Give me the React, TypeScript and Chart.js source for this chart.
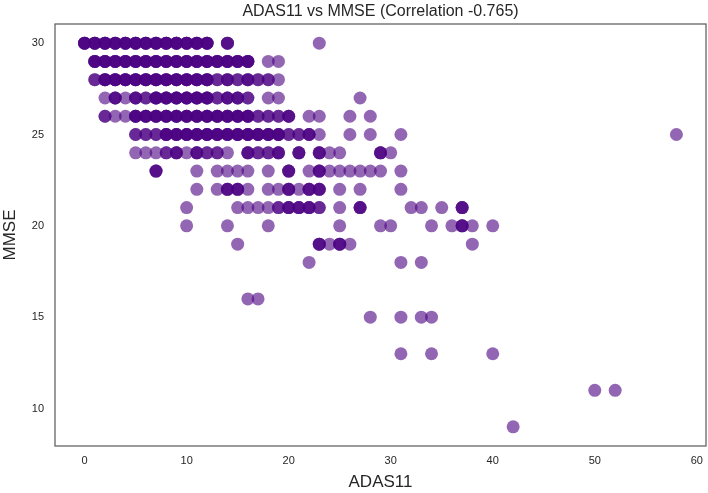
import React, { useEffect, useRef } from 'react';
import { Chart, registerables } from 'chart.js';

Chart.register(...registerables);

// MMSE levels (rows) with the ADAS11 values seen on each row and how many
// subjects overlap at each spot (overlap drives the darker purple).
const mmseLevels = [30, 29, 28, 27, 26, 25, 24, 23, 22, 21, 20, 19, 18, 16, 15, 13, 11, 9];

const adasByLevel: number[][] = [
  [0, 1, 2, 3, 4, 5, 6, 7, 8, 9, 10, 11, 12, 14, 23],
  [1, 2, 3, 4, 5, 6, 7, 8, 9, 10, 11, 12, 13, 14, 15, 16, 18, 19],
  [1, 2, 3, 4, 5, 6, 7, 8, 9, 10, 11, 12, 13, 14, 15, 16, 17, 18, 19],
  [2, 3, 4, 5, 6, 7, 8, 9, 10, 11, 12, 13, 14, 15, 16, 18, 19, 27],
  [2, 3, 4, 5, 6, 7, 8, 9, 10, 11, 12, 13, 14, 15, 16, 17, 18, 19, 20, 22, 23, 26, 28],
  [5, 6, 7, 8, 9, 10, 11, 12, 13, 14, 15, 16, 17, 18, 19, 20, 21, 22, 23, 26, 28, 31, 58],
  [5, 6, 7, 8, 9, 10, 11, 12, 13, 14, 16, 17, 18, 19, 21, 23, 24, 25, 29, 30],
  [7, 11, 13, 14, 15, 16, 18, 20, 22, 23, 24, 25, 26, 27, 28, 29, 31],
  [11, 13, 14, 15, 16, 18, 19, 20, 21, 22, 23, 25, 27, 31],
  [10, 15, 16, 17, 18, 19, 20, 21, 22, 23, 25, 27, 32, 33, 35, 37],
  [10, 14, 18, 25, 29, 30, 34, 36, 37, 38, 40],
  [15, 23, 24, 25, 26, 38],
  [22, 31, 33],
  [16, 17],
  [28, 31, 33, 34],
  [31, 34, 40],
  [50, 52],
  [42],
];

const countByLevel: number[][] = [
  [4, 4, 4, 4, 4, 4, 4, 4, 4, 4, 4, 4, 4, 3, 1],
  [4, 4, 4, 4, 4, 4, 4, 4, 4, 4, 4, 4, 4, 4, 4, 4, 1, 1],
  [2, 4, 4, 4, 4, 4, 4, 4, 4, 4, 4, 4, 2, 3, 2, 3, 2, 2, 1],
  [1, 3, 1, 3, 2, 4, 4, 4, 4, 4, 4, 2, 3, 3, 2, 1, 1, 1],
  [2, 1, 1, 4, 4, 4, 4, 4, 4, 4, 4, 4, 4, 4, 4, 2, 2, 2, 3, 1, 1, 1, 1],
  [2, 2, 2, 4, 4, 4, 4, 4, 4, 4, 4, 4, 4, 4, 4, 2, 2, 3, 1, 1, 1, 1, 1],
  [1, 1, 1, 2, 3, 1, 3, 2, 2, 1, 3, 2, 2, 3, 3, 3, 1, 1, 3, 1],
  [3, 1, 1, 1, 1, 1, 1, 3, 1, 3, 1, 1, 1, 1, 1, 1, 1],
  [1, 1, 3, 3, 1, 1, 1, 3, 1, 3, 3, 1, 1, 1],
  [1, 1, 1, 1, 1, 2, 3, 3, 3, 2, 1, 3, 1, 1, 1, 3],
  [1, 1, 1, 1, 1, 1, 1, 1, 3, 1, 1],
  [1, 3, 1, 3, 1, 1],
  [1, 1, 1],
  [1, 1],
  [1, 1, 1, 1],
  [1, 1, 1],
  [1, 1],
  [1],
];

const xTicks = [0, 10, 20, 30, 40, 50, 60];
const yTicks = [10, 15, 20, 25, 30];

const TITLE = 'ADAS11 vs MMSE (Correlation -0.765)';
const X_LABEL = 'ADAS11';
const Y_LABEL = 'MMSE';

const FONT = '"Liberation Sans", Arial, Helvetica, sans-serif';
const TEXT = '#262626';

export default function App() {
  const ref = useRef<HTMLCanvasElement>(null);

  useEffect(() => {
    const points: { x: number; y: number }[] = [];
    mmseLevels.forEach((m, i) => {
      adasByLevel[i].forEach((a, j) => {
        for (let k = 0; k < countByLevel[i][j]; k++) points.push({ x: a, y: m });
      });
    });

    const framePlugin = {
      id: 'frame',
      afterDraw(chart: any) {
        const { ctx } = chart;
        const { left, top, right, bottom } = chart.chartArea;
        ctx.save();
        ctx.strokeStyle = '#5f5f5f';
        ctx.lineWidth = 1.25;
        ctx.strokeRect(left, top, right - left, bottom - top);
        ctx.restore();
      },
    };

    const chart = new Chart(ref.current as HTMLCanvasElement, {
      type: 'scatter',
      data: {
        datasets: [
          {
            data: points,
            backgroundColor: 'rgba(75,0,130,0.6)',
            borderColor: 'rgba(75,0,130,0.6)',
            borderWidth: 0,
            pointRadius: 6.5,
            pointHoverRadius: 6.5,
          },
        ],
      },
      options: {
        animation: false,
        responsive: false,
        events: [],
        layout: { autoPadding: false, padding: { left: 0, right: 2, top: 0, bottom: 0 } },
        plugins: {
          legend: { display: false },
          tooltip: { enabled: false },
          title: {
            display: true,
            fullSize: false,
            text: TITLE,
            color: TEXT,
            font: { family: FONT, size: 16, weight: 'normal' },
            padding: { top: 2, bottom: 2.8 },
          },
        },
        scales: {
          x: {
            type: 'linear',
            min: -2.9,
            max: 60.9,
            afterBuildTicks: (s: any) => {
              s.ticks = xTicks.map((v) => ({ value: v }));
            },
            afterFit: (s: any) => {
              s.height = 47;
              s.paddingLeft = 0;
              s.paddingRight = 0;
            },
            grid: { display: false, drawTicks: false },
            border: { display: false },
            ticks: {
              padding: 8,
              color: TEXT,
              font: { family: FONT, size: 11 },
              maxRotation: 0,
            },
            title: {
              display: true,
              text: X_LABEL,
              color: TEXT,
              font: { family: FONT, size: 17 },
              padding: { top: 0, bottom: 0 },
            },
          },
          y: {
            type: 'linear',
            min: 7.95,
            max: 31.05,
            afterBuildTicks: (s: any) => {
              s.ticks = yTicks.map((v) => ({ value: v }));
            },
            afterFit: (s: any) => {
              s.width = 55;
              s.paddingTop = 0;
              s.paddingBottom = 0;
            },
            grid: { display: false, drawTicks: false },
            border: { display: false },
            ticks: {
              padding: 11,
              color: TEXT,
              font: { family: FONT, size: 11 },
            },
            title: {
              display: true,
              text: Y_LABEL,
              color: TEXT,
              font: { family: FONT, size: 17 },
              padding: { top: 0, bottom: 0 },
            },
          },
        },
      },
      plugins: [framePlugin],
    } as any);

    return () => chart.destroy();
  }, []);

  return (
    <div style={{ position: 'fixed', left: 0, top: 0, width: 708, height: 493, background: '#fff' }}>
      <canvas ref={ref} width={708} height={493} style={{ display: 'block' }} />
    </div>
  );
}
